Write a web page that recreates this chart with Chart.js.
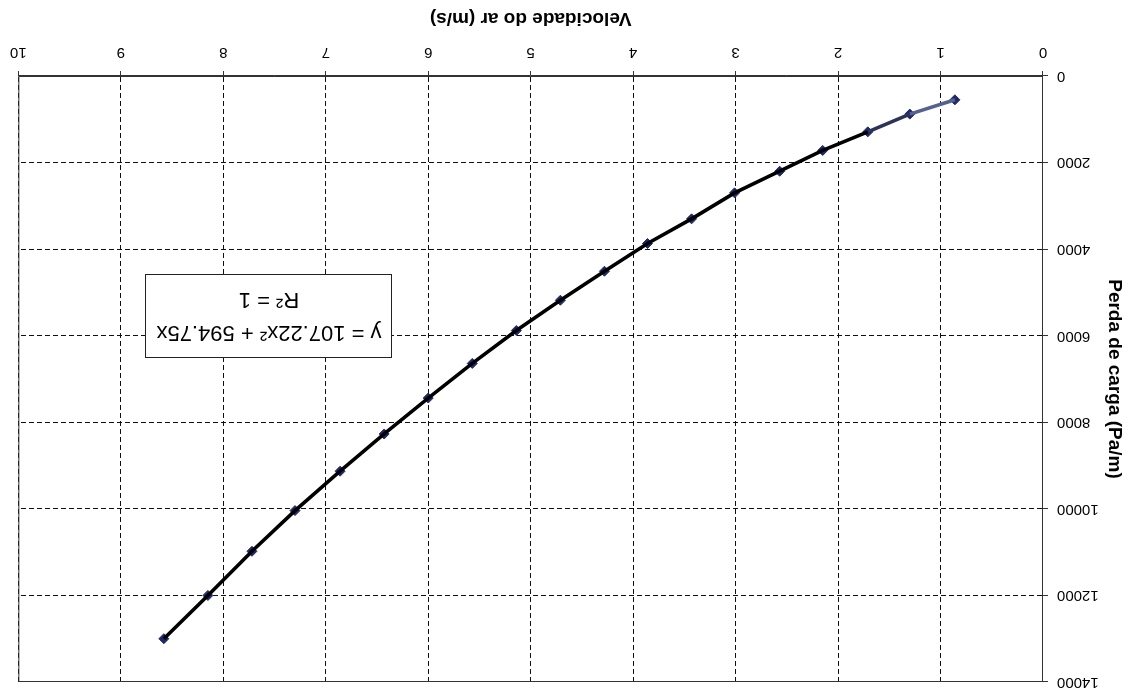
<!DOCTYPE html>
<html>
<head>
<meta charset="utf-8">
<title>Perda de carga x Velocidade do ar</title>
<script src="https://cdn.jsdelivr.net/npm/chart.js@4.4.1/dist/chart.umd.min.js"></script>
<style>
  html, body { margin: 0; padding: 0; background: #fff; }
  /* the printed sheet is turned upside down */
  #folha { width: 1141px; height: 700px; transform: rotate(180deg); transform-origin: 50% 50%; }
  canvas { display: block; }
</style>
</head>
<body>
<div id="folha"><canvas id="grafico" width="1141" height="700"></canvas></div>
<script>
// Velocidade do ar (m/s)
const velocidade = [0.86, 1.30, 1.71, 2.15, 2.57, 3.01, 3.43, 3.86, 4.28, 4.71,
                    5.14, 5.57, 6.00, 6.43, 6.86, 7.30, 7.72, 8.15, 8.58];
// Perda de carga (Pa/m)
const perdaCarga = [550, 880, 1290, 1720, 2200, 2700, 3300, 3870, 4510, 5180,
                    5880, 6640, 7440, 8270, 9130, 10040, 10980, 12000, 13000];

const ticksX = [0, 1, 2, 3, 4, 5, 6, 7, 8, 9, 10];
const ticksY = [0, 2000, 4000, 6000, 8000, 10000, 12000, 14000];

const tituloX = 'Velocidade do ar (m/s)';
const tituloY = 'Perda de carga (Pa/m)';
const equacao = ['y = 107.22x\u00B2 + 594.75x', 'R\u00B2 = 1'];

const pontos = velocidade.map((v, i) => ({ x: v, y: perdaCarga[i] }));

const FONTE = "'Liberation Sans', Arial, sans-serif";

// solid frame around the plot area
const moldura = {
  id: 'moldura',
  beforeDatasetsDraw(chart) {
    const { ctx, chartArea: a } = chart;
    ctx.save();
    ctx.strokeStyle = '#333';
    ctx.lineWidth = 1;
    ctx.strokeRect(a.left + 0.5, a.top + 0.5, a.right - a.left - 1, a.bottom - a.top - 1);
    ctx.restore();
  }
};

// trendline equation label
const caixaEquacao = {
  id: 'caixaEquacao',
  afterDatasetsDraw(chart) {
    const { ctx, chartArea: a } = chart;
    const x = a.left + 651, y = a.top + 324, w = 246, h = 83;
    ctx.save();
    ctx.fillStyle = '#fff';
    ctx.fillRect(x, y, w, h);
    ctx.strokeStyle = '#222';
    ctx.lineWidth = 1;
    ctx.strokeRect(x + 0.5, y + 0.5, w, h);
    ctx.fillStyle = '#000';
    ctx.font = '22px ' + FONTE;
    ctx.textAlign = 'center';
    ctx.textBaseline = 'middle';
    ctx.fillText(equacao[0], x + w / 2, y + 26);
    ctx.fillText(equacao[1], x + w / 2, y + 59);
    ctx.restore();
  }
};

new Chart(document.getElementById('grafico'), {
  type: 'scatter',
  data: {
    datasets: [
      {
        // curve through the measured points
        data: pontos,
        showLine: true,
        borderColor: '#000',
        borderWidth: 3.6,
        pointRadius: 0,
        segment: {
          borderColor: c => c.p0DataIndex === 0 ? '#56628e' : (c.p0DataIndex === 1 ? '#2c3358' : '#000')
        }
      },
      {
        // measured points
        data: pontos,
        showLine: false,
        pointStyle: 'rectRot',
        pointRadius: 5,
        pointBackgroundColor: '#1f2868',
        pointBorderColor: '#1f2868',
        pointBorderWidth: 1
      }
    ]
  },
  options: {
    responsive: false,
    devicePixelRatio: 1,
    animation: false,
    events: [],
    layout: { padding: { left: 0, right: 16, top: 15, bottom: 0 } },
    plugins: { legend: { display: false }, tooltip: { enabled: false } },
    scales: {
      x: {
        type: 'linear',
        position: 'bottom',
        min: ticksX[0],
        max: ticksX[ticksX.length - 1],
        afterBuildTicks: s => { s.ticks = ticksX.map(v => ({ value: v })); },
        afterFit: s => { s.height = 76; },
        ticks: { color: '#000', font: { family: FONTE, size: 15 }, padding: 10, maxRotation: 0 },
        grid: { color: '#111', lineWidth: 1, tickLength: 5, tickColor: '#333' },
        border: { display: true, color: '#333', width: 1, dash: [5, 3] },
        title: {
          display: true, text: tituloX, color: '#000',
          font: { family: FONTE, size: 19, weight: 'bold' },
          padding: { top: 0, bottom: 7 }
        }
      },
      y: {
        type: 'linear',
        position: 'left',
        min: ticksY[0],
        max: ticksY[ticksY.length - 1],
        afterBuildTicks: s => { s.ticks = ticksY.map(v => ({ value: v })); },
        afterFit: s => { s.width = 98; },
        ticks: { color: '#000', font: { family: FONTE, size: 15 }, padding: 9, callback: v => String(v) },
        grid: { color: '#111', lineWidth: 1, tickLength: 5, tickColor: '#333' },
        border: { display: true, color: '#333', width: 1, dash: [5, 3] },
        title: {
          display: true, text: tituloY, color: '#000',
          font: { family: FONTE, size: 19, weight: 'bold' },
          padding: { top: 15, bottom: 0 }
        }
      }
    }
  },
  plugins: [moldura, caixaEquacao]
});
</script>
</body>
</html>
